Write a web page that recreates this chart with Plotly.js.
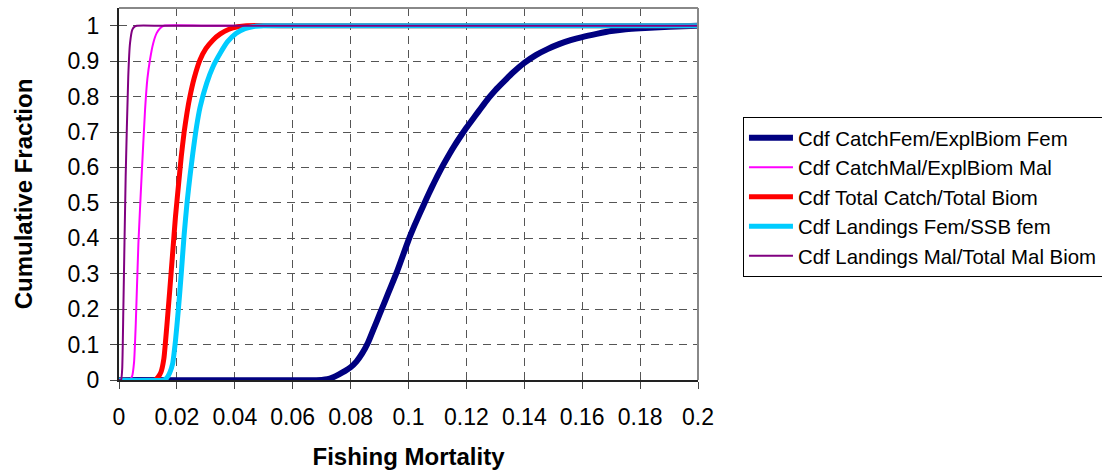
<!DOCTYPE html>
<html>
<head>
<meta charset="utf-8">
<script src="https://cdn.plot.ly/plotly-3.0.1.min.js"></script>
<style>html,body{margin:0;padding:0;background:#fff;}#chart{width:1102px;height:473px;}</style>
</head>
<body>
<div id="chart"></div>
<script>
// Series names
var seriesNames = [
  "Cdf CatchFem/ExplBiom Fem",
  "Cdf CatchMal/ExplBiom Mal",
  "Cdf Total Catch/Total Biom",
  "Cdf Landings Fem/SSB fem",
  "Cdf Landings Mal/Total Mal Biom"
];

// Cdf CatchFem/ExplBiom Fem
var femX = [0, 0.070, 0.072, 0.074, 0.076, 0.078, 0.080, 0.082, 0.084, 0.086, 0.088, 0.090, 0.092, 0.094, 0.096, 0.098, 0.100, 0.102, 0.104, 0.106, 0.108, 0.110, 0.112, 0.114, 0.116, 0.118, 0.120, 0.122, 0.124, 0.126, 0.128, 0.130, 0.133, 0.136, 0.140, 0.144, 0.148, 0.152, 0.156, 0.160, 0.165, 0.170, 0.175, 0.180, 0.190, 0.200];
var femY = [0, 0, 0.002, 0.008, 0.016, 0.025, 0.036, 0.052, 0.075, 0.105, 0.145, 0.185, 0.225, 0.265, 0.305, 0.350, 0.395, 0.435, 0.472, 0.508, 0.543, 0.576, 0.607, 0.636, 0.663, 0.688, 0.712, 0.734, 0.756, 0.778, 0.799, 0.818, 0.843, 0.867, 0.895, 0.917, 0.934, 0.948, 0.959, 0.968, 0.977, 0.985, 0.990, 0.993, 0.997, 1.0];

// Cdf CatchMal/ExplBiom Mal
var malX = [0, 0.0035, 0.0045, 0.0052, 0.0058, 0.0067, 0.0078, 0.009, 0.0098, 0.0107, 0.0118, 0.013, 0.0142, 0.0155, 0.03, 0.1, 0.2];
var malY = [0, 0, 0.01, 0.05, 0.16, 0.386, 0.574, 0.763, 0.85, 0.904, 0.95, 0.979, 0.993, 1, 1, 1, 1];

// Cdf Total Catch/Total Biom
var totX = [0, 0.0125, 0.0135, 0.0145, 0.0155, 0.0165, 0.0175, 0.0185, 0.0195, 0.0205, 0.0215, 0.0225, 0.0235, 0.0245, 0.026, 0.028, 0.030, 0.0325, 0.035, 0.038, 0.041, 0.044, 0.06, 0.1, 0.2];
var totY = [0, 0, 0.008, 0.022, 0.06, 0.15, 0.25, 0.355, 0.46, 0.546, 0.63, 0.70, 0.755, 0.80, 0.853, 0.904, 0.935, 0.96, 0.977, 0.99, 0.997, 1, 1, 1, 1];

// Cdf Landings Fem/SSB fem
var landFemX = [0, 0.0155, 0.0165, 0.0175, 0.0185, 0.0195, 0.0205, 0.0215, 0.0225, 0.0235, 0.0245, 0.0255, 0.0268, 0.028, 0.0303, 0.0325, 0.035, 0.0375, 0.0405, 0.0435, 0.0465, 0.05, 0.07, 0.1, 0.2];
var landFemY = [0, 0, 0.006, 0.02, 0.045, 0.11, 0.198, 0.30, 0.41, 0.50, 0.574, 0.64, 0.716, 0.77, 0.838, 0.885, 0.923, 0.955, 0.979, 0.992, 0.998, 1, 1, 1, 1];

// Cdf Landings Mal/Total Mal Biom
var landMalX = [0, 0.0007, 0.0011, 0.0015, 0.0023, 0.0032, 0.0038, 0.0046, 0.0055, 0.0062, 0.015, 0.1, 0.2];
var landMalY = [0, 0, 0.03, 0.198, 0.574, 0.857, 0.95, 0.989, 0.998, 1, 1, 1, 1];

// Axis ticks
var xTickVals = [0, 0.02, 0.04, 0.06, 0.08, 0.1, 0.12, 0.14, 0.16, 0.18, 0.2];
var xTickText = ["0", "0.02", "0.04", "0.06", "0.08", "0.1", "0.12", "0.14", "0.16", "0.18", "0.2"];
var yTickVals = [0, 0.1, 0.2, 0.3, 0.4, 0.5, 0.6, 0.7, 0.8, 0.9, 1];
var yTickText = ["0", "0.1", "0.2", "0.3", "0.4", "0.5", "0.6", "0.7", "0.8", "0.9", "1"];

var colors = ["#000080", "#FF00FF", "#FF0000", "#00CCFF", "#800080"];
var widths = [6, 2, 5, 5, 2];
var xs = [femX, malX, totX, landFemX, landMalX];
var ys = [femY, malY, totY, landFemY, landMalY];

var traces = seriesNames.map(function (n, i) {
  return {
    x: xs[i], y: ys[i], name: n, type: "scatter", mode: "lines",
    line: {color: colors[i], width: widths[i], shape: "spline", smoothing: 0.5, simplify: false}
  };
});

var font = "Arial, 'Liberation Sans', sans-serif";

var layout = {
  width: 1102, height: 473,
  margin: {l: 119, r: 404, t: 8, b: 93},
  paper_bgcolor: "#fff", plot_bgcolor: "#fff",
  font: {family: font, color: "#000"},
  showlegend: true,
  legend: {
    xref: "container", yref: "container",
    x: 0.6742, xanchor: "left", y: 0.7526, yanchor: "top",
    bordercolor: "#000", borderwidth: 1, bgcolor: "#fff",
    font: {family: font, size: 20.4, color: "#000"},
    itemwidth: 44
  },
  xaxis: {
    range: [0, 0.2], tickvals: xTickVals, ticktext: xTickText,
    showgrid: true, gridcolor: "#555", griddash: "8px,6px", gridwidth: 1,
    zeroline: false, showline: true, linecolor: "#222", linewidth: 2,
    ticks: "outside", ticklen: 7, tickcolor: "#444", ticklabelstandoff: 8,
    tickfont: {family: font, size: 23, color: "#000"},
    title: {text: "Fishing Mortality", font: {family: font, size: 24, color: "#000", weight: "bold"}, standoff: 20}
  },
  yaxis: {
    range: [0, 1.05], tickvals: yTickVals, ticktext: yTickText,
    showgrid: true, gridcolor: "#555", griddash: "8px,6px", gridwidth: 1,
    zeroline: false, showline: true, linecolor: "#222", linewidth: 2,
    ticks: "outside", ticklen: 7, tickcolor: "#444", ticklabelstandoff: 6,
    tickfont: {family: font, size: 23, color: "#000"},
    title: {text: "Cumulative Fraction", font: {family: font, size: 24, color: "#000", weight: "bold"}, standoff: 28}
  },
  shapes: [
    {type: "line", xref: "paper", yref: "paper", x0: 0, x1: 1, y0: 1, y1: 1, line: {color: "#888", width: 2}},
    {type: "line", xref: "paper", yref: "paper", x0: 1, x1: 1, y0: 0, y1: 1, line: {color: "#888", width: 2}}
  ]
};

Plotly.newPlot("chart", traces, layout, {displayModeBar: false, staticPlot: true});
</script>
</body>
</html>
